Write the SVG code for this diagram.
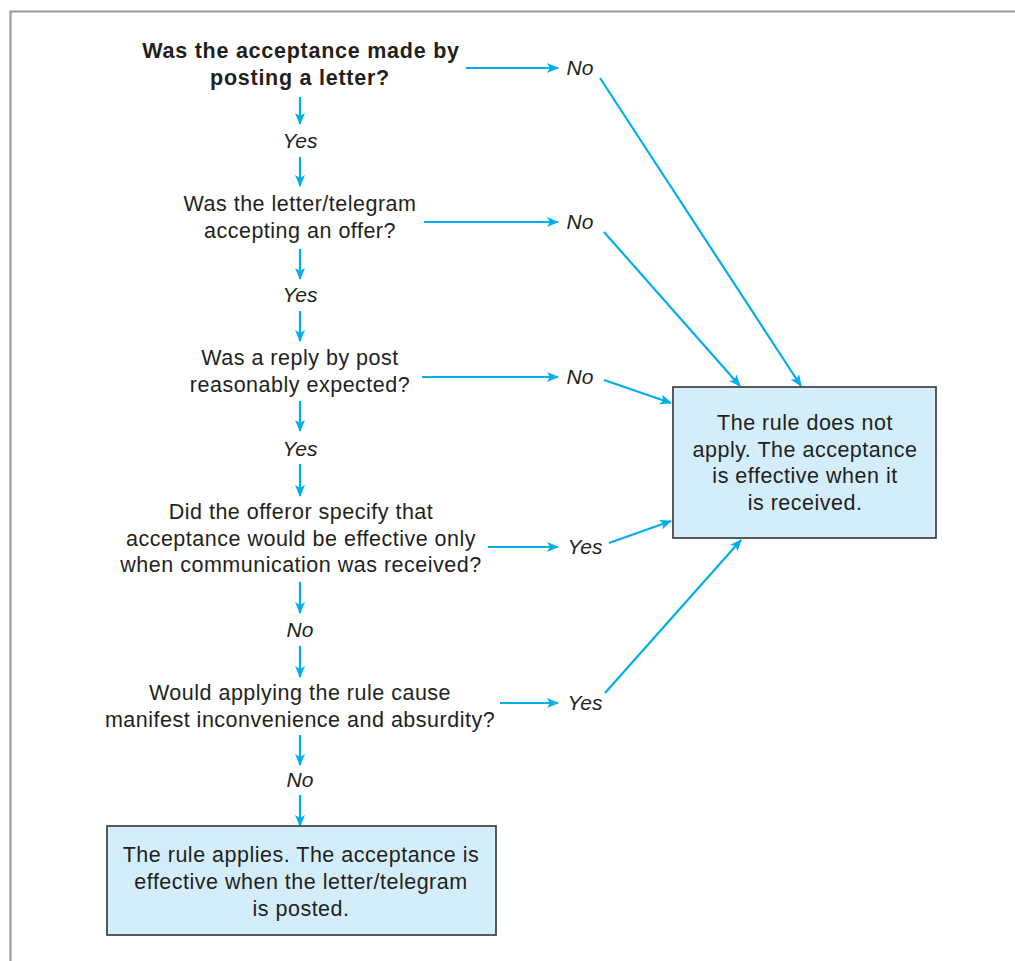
<svg xmlns="http://www.w3.org/2000/svg" width="1015" height="961" viewBox="0 0 1015 961">
<defs>
<marker id="ah" viewBox="0 0 12 10" refX="11" refY="5" markerWidth="12" markerHeight="10" markerUnits="userSpaceOnUse" orient="auto">
<path d="M0,0 L12,5 L0,10 L3,5 Z" fill="#00aeef"/>
</marker>
<style>
.c{stroke:#00aeef;stroke-width:2.2;fill:none;marker-end:url(#ah)}
.q{font-family:"Liberation Sans",Arial,sans-serif;font-size:21.5px;letter-spacing:0.5px;fill:#231f20;text-anchor:middle}
.b{font-weight:bold;letter-spacing:0.75px}
.l{font-family:"Liberation Sans",Arial,sans-serif;font-size:21px;font-style:italic;fill:#231f20;text-anchor:middle}
.box{fill:#d4edfa;stroke:#333;stroke-width:1.6}
</style>
</defs>
<rect x="0" y="0" width="1015" height="961" fill="#fff"/>
<path d="M10.5,975 L10.5,11.5 L1030,11.5" fill="none" stroke="#9a9a9a" stroke-width="2.2"/>
<g id="connectors">
<line class="c" x1="466" y1="68" x2="558" y2="68"/>
<line class="c" x1="300" y1="97" x2="300" y2="124"/>
<line class="c" x1="300" y1="157" x2="300" y2="186"/>
<line class="c" x1="424" y1="222" x2="558" y2="222"/>
<line class="c" x1="300" y1="249" x2="300" y2="279"/>
<line class="c" x1="300" y1="311" x2="300" y2="341"/>
<line class="c" x1="422" y1="377" x2="558" y2="377"/>
<line class="c" x1="300" y1="401" x2="300" y2="431"/>
<line class="c" x1="300" y1="464" x2="300" y2="496"/>
<line class="c" x1="488" y1="547" x2="558" y2="547"/>
<line class="c" x1="300" y1="582" x2="300" y2="613"/>
<line class="c" x1="300" y1="646" x2="300" y2="677"/>
<line class="c" x1="500" y1="703" x2="558" y2="703"/>
<line class="c" x1="300" y1="735" x2="300" y2="765"/>
<line class="c" x1="300" y1="795" x2="300" y2="826"/>
<line class="c" x1="600" y1="78" x2="801" y2="386"/>
<line class="c" x1="604" y1="232" x2="740" y2="386"/>
<line class="c" x1="604" y1="380" x2="671" y2="403"/>
<line class="c" x1="609" y1="543" x2="671" y2="521"/>
<line class="c" x1="605" y1="693" x2="741" y2="540"/>
</g>
<g id="labels">
<text class="l" x="580" y="75">No</text>
<text class="l" x="300" y="148">Yes</text>
<text class="l" x="580" y="229">No</text>
<text class="l" x="300" y="302">Yes</text>
<text class="l" x="580" y="384">No</text>
<text class="l" x="300" y="456">Yes</text>
<text class="l" x="585" y="554">Yes</text>
<text class="l" x="300" y="637">No</text>
<text class="l" x="585" y="710">Yes</text>
<text class="l" x="300" y="787">No</text>
</g>
<g id="q1"><text class="q b" x="301" y="58">Was the acceptance made by</text><text class="q b" x="300" y="85">posting a letter?</text></g>
<g id="q2"><text class="q" x="300" y="211">Was the letter/telegram</text><text class="q" x="300" y="238">accepting an offer?</text></g>
<g id="q3"><text class="q" x="300" y="365">Was a reply by post</text><text class="q" x="300" y="392">reasonably expected?</text></g>
<g id="q4"><text class="q" x="301" y="519">Did the offeror specify that</text><text class="q" x="301" y="546">acceptance would be effective only</text><text class="q" x="301" y="572">when communication was received?</text></g>
<g id="q5"><text class="q" x="300" y="700">Would applying the rule cause</text><text class="q" x="300" y="727">manifest inconvenience and absurdity?</text></g>
<g id="notapply"><rect class="box" x="673" y="387" width="263" height="151"/>
<text class="q" x="805" y="430">The rule does not</text><text class="q" x="805" y="457">apply. The acceptance</text><text class="q" x="805" y="483">is effective when it</text><text class="q" x="805" y="510">is received.</text></g>
<g id="applies"><rect class="box" x="107" y="826" width="389" height="109"/>
<text class="q" x="301" y="862">The rule applies. The acceptance is</text><text class="q" x="301" y="889">effective when the letter/telegram</text><text class="q" x="301" y="916">is posted.</text></g>
</svg>
